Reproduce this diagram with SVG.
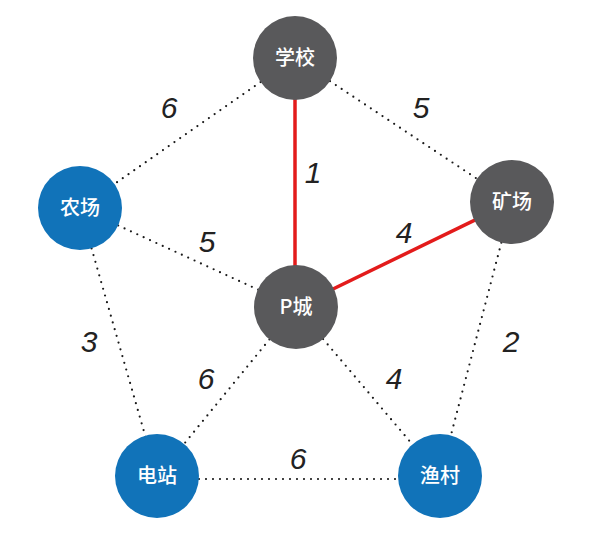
<svg xmlns="http://www.w3.org/2000/svg" width="592" height="535" viewBox="0 0 592 535">
<style>
.dot{stroke:#1a1a1a;stroke-width:2.2;stroke-linecap:round;stroke-dasharray:0 7;fill:none}
.red{stroke:#e31b1b;stroke-width:3.5;fill:none}
.gray{fill:#59595b}
.blue{fill:#1173b9}
.nt{font-family:"Noto Sans CJK SC","Noto Sans",sans-serif;font-size:20px;font-weight:500;fill:#fff;text-anchor:middle}
.w{font-family:"Liberation Sans","Helvetica",sans-serif;font-style:italic;font-size:30px;fill:#222;text-anchor:middle}
</style>
<rect width="592" height="535" fill="#fff"/>
<g id="connectors">
<line class="dot" x1="295" y1="58" x2="80" y2="208"/>
<line class="dot" x1="295" y1="58" x2="512" y2="202"/>
<line class="dot" x1="80" y1="208" x2="296" y2="307"/>
<line class="dot" x1="80" y1="208" x2="157" y2="477"/>
<line class="dot" x1="512" y1="202" x2="440" y2="477"/>
<line class="dot" x1="296" y1="307" x2="157" y2="477"/>
<line class="dot" x1="296" y1="307" x2="440" y2="477"/>
<line class="dot" x1="157" y1="479" x2="440" y2="479"/>
<line class="red" x1="295" y1="58" x2="295" y2="307"/>
<line class="red" x1="296" y1="307" x2="512" y2="202"/>
</g>
<g id="labels">
<text class="w" x="169" y="118">6</text>
<text class="w" x="421" y="118">5</text>
<text class="w" x="313" y="183">1</text>
<text class="w" x="207" y="252">5</text>
<text class="w" x="404" y="243">4</text>
<text class="w" x="89" y="352">3</text>
<text class="w" x="511" y="352">2</text>
<text class="w" x="206" y="389">6</text>
<text class="w" x="394" y="389">4</text>
<text class="w" x="298" y="469">6</text>
</g>
<g id="xuexiao"><circle class="gray" cx="295" cy="58" r="42"/><text class="nt" x="295" y="65">学校</text></g>
<g id="nongchang"><circle class="blue" cx="80" cy="208" r="42"/><text class="nt" x="80" y="215">农场</text></g>
<g id="kuangchang"><circle class="gray" cx="512" cy="202" r="42"/><text class="nt" x="512" y="209">矿场</text></g>
<g id="pcheng"><circle class="gray" cx="296" cy="307" r="42"/><text class="nt" x="296" y="314">P城</text></g>
<g id="dianzhan"><circle class="blue" cx="157" cy="476" r="42"/><text class="nt" x="157" y="483">电站</text></g>
<g id="yucun"><circle class="blue" cx="440" cy="476" r="42"/><text class="nt" x="440" y="483">渔村</text></g>
</svg>
